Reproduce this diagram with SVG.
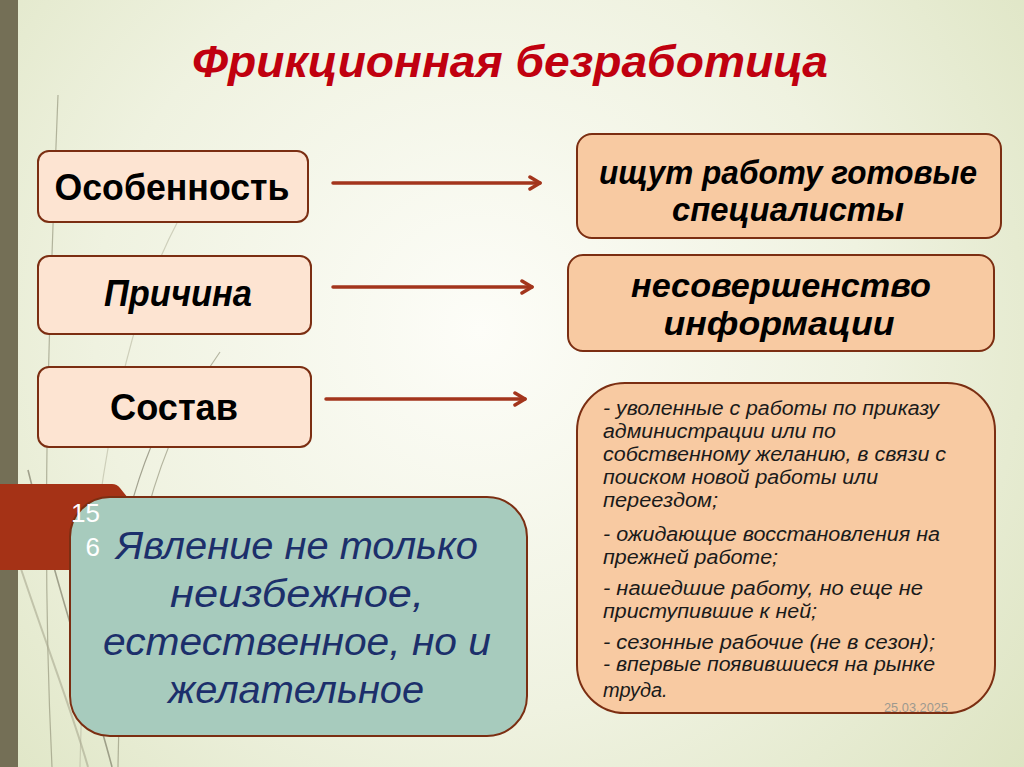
<svg xmlns="http://www.w3.org/2000/svg" width="1024" height="767" viewBox="0 0 1024 767">
<defs>
<radialGradient id="bg" cx="480" cy="330" r="700" gradientUnits="userSpaceOnUse">
<stop offset="0" stop-color="#fdfdf8"/>
<stop offset="0.55" stop-color="#eff2e0"/>
<stop offset="1" stop-color="#dde4c2"/>
</radialGradient>
<marker id="arr" viewBox="0 0 14 16" refX="12" refY="8" markerWidth="14" markerHeight="16" markerUnits="userSpaceOnUse" orient="auto">
<path d="M2,2 L12,8 L2,14" fill="none" stroke="#a3351c" stroke-width="3.5" stroke-linecap="round" stroke-linejoin="round"/>
</marker>
<style>
.lbox{fill:#fde4d2;stroke:#7b2e12;stroke-width:2}
.rbox{fill:#f8caa2;stroke:#7b2e12;stroke-width:2}
.tbox{fill:#a7cbbd;stroke:#7b2e12;stroke-width:2}
.lbl{font-family:"Liberation Sans",Arial,sans-serif;font-weight:bold;fill:#000;text-anchor:middle}
.it{font-style:italic}
.lst{font-family:"Liberation Sans",Arial,sans-serif;font-style:italic;font-size:20px;fill:#1a1a1a}
.blue{font-family:"Liberation Sans",Arial,sans-serif;font-style:italic;font-size:38px;fill:#1c2f6b;text-anchor:middle}
.conn{stroke:#a3351c;stroke-width:3.5;fill:none;stroke-linecap:round}
.wisp{fill:none;stroke:#8a8a72;stroke-width:1.2;opacity:0.6}
</style>
</defs>
<rect x="0" y="0" width="1024" height="767" fill="url(#bg)"/>
<rect x="0" y="0" width="18" height="767" fill="#746f56"/>
<g id="decor">
<path class="wisp" d="M58,95 C50,300 40,520 52,767"/>
<path class="wisp" d="M177,223 C120,330 85,520 80,767" style="stroke:#b8b8a0"/>
<path class="wisp" d="M220,352 C150,450 120,580 118,767"/>
<path class="wisp" d="M28,470 C60,600 95,700 112,767" style="stroke:#6e6c58;stroke-width:1.6"/>
<path class="wisp" d="M18,560 C48,650 75,720 88,767" style="stroke:#a9a890;stroke-width:2"/>
<path class="wisp" d="M157,433 C140,470 125,520 120,560" style="stroke:#6e6c58"/>
<path d="M0,484 L112,484 Q117,484 120,488 L128,498 L128,570 L0,570 Z" fill="#a53216"/>
</g>
<g id="title">
<text x="510" y="77" font-family="Liberation Sans,Arial,sans-serif" font-weight="bold" font-style="italic" font-size="44" fill="#c0000f" text-anchor="middle" textLength="636" lengthAdjust="spacingAndGlyphs">Фрикционная безработица</text>
</g>
<g id="connectors">
<line class="conn" x1="333" y1="183" x2="540" y2="183" marker-end="url(#arr)"/>
<line class="conn" x1="333" y1="287" x2="532" y2="287" marker-end="url(#arr)"/>
<line class="conn" x1="326" y1="399" x2="525" y2="399" marker-end="url(#arr)"/>
</g>
<g id="node-osobennost">
<rect class="lbox" x="38" y="151" width="270" height="71" rx="11"/>
<text class="lbl" x="172" y="200" font-size="36" textLength="235" lengthAdjust="spacingAndGlyphs">Особенность</text>
</g>
<g id="node-prichina">
<rect class="lbox" x="38" y="256" width="273" height="78" rx="11"/>
<text class="lbl it" x="178" y="306" font-size="36" textLength="148" lengthAdjust="spacingAndGlyphs">Причина</text>
</g>
<g id="node-sostav">
<rect class="lbox" x="38" y="367" width="273" height="80" rx="11"/>
<text class="lbl" x="174" y="420" font-size="36" textLength="128" lengthAdjust="spacingAndGlyphs">Состав</text>
</g>
<g id="node-ishchut">
<rect class="rbox" x="577" y="134" width="424" height="104" rx="15"/>
<text class="lbl it" x="788" y="184" font-size="33" textLength="378" lengthAdjust="spacingAndGlyphs">ищут работу готовые</text>
<text class="lbl it" x="788" y="221" font-size="33" textLength="232" lengthAdjust="spacingAndGlyphs">специалисты</text>
</g>
<g id="node-nesovershenstvo">
<rect class="rbox" x="568" y="255" width="426" height="96" rx="15"/>
<text class="lbl it" x="781" y="297" font-size="33" textLength="300" lengthAdjust="spacingAndGlyphs">несовершенство</text>
<text class="lbl it" x="779" y="335" font-size="33" textLength="231" lengthAdjust="spacingAndGlyphs">информации</text>
</g>
<g id="node-sostav-list">
<rect class="rbox" x="577" y="383" width="418" height="330" rx="48"/>
<text class="lst" x="603" y="415" textLength="336" lengthAdjust="spacingAndGlyphs">- уволенные с работы по приказу</text>
<text class="lst" x="603" y="438" textLength="233" lengthAdjust="spacingAndGlyphs">администрации или по</text>
<text class="lst" x="603" y="461" textLength="343" lengthAdjust="spacingAndGlyphs">собственному желанию, в связи с</text>
<text class="lst" x="603" y="484" textLength="275" lengthAdjust="spacingAndGlyphs">поиском новой работы или</text>
<text class="lst" x="603" y="507" textLength="115" lengthAdjust="spacingAndGlyphs">переездом;</text>
<text class="lst" x="603" y="541" textLength="337" lengthAdjust="spacingAndGlyphs">- ожидающие восстановления на</text>
<text class="lst" x="603" y="564" textLength="175" lengthAdjust="spacingAndGlyphs">прежней работе;</text>
<text class="lst" x="603" y="595" textLength="320" lengthAdjust="spacingAndGlyphs">- нашедшие работу, но еще не</text>
<text class="lst" x="603" y="618" textLength="214" lengthAdjust="spacingAndGlyphs">приступившие к ней;</text>
<text class="lst" x="603" y="649" textLength="332" lengthAdjust="spacingAndGlyphs">- сезонные рабочие (не в сезон);</text>
<text class="lst" x="603" y="671" textLength="332" lengthAdjust="spacingAndGlyphs">- впервые появившиеся на рынке</text>
<text class="lst" x="603" y="697">труда.</text>
</g>
<g id="node-yavlenie">
<rect class="tbox" x="70" y="497" width="457" height="239" rx="40"/>
<text class="blue" x="297" y="559" textLength="362" lengthAdjust="spacingAndGlyphs">Явление не только</text>
<text class="blue" x="297" y="607" textLength="254" lengthAdjust="spacingAndGlyphs">неизбежное,</text>
<text class="blue" x="297" y="655" textLength="388" lengthAdjust="spacingAndGlyphs">естественное, но и</text>
<text class="blue" x="296" y="703" textLength="256" lengthAdjust="spacingAndGlyphs">желательное</text>
</g>
<g id="slide-number">
<text x="100" y="522" font-family="Liberation Sans,Arial,sans-serif" font-size="26" fill="#ffffff" text-anchor="end">15</text>
<text x="100" y="556" font-family="Liberation Sans,Arial,sans-serif" font-size="26" fill="#ffffff" text-anchor="end">6</text>
</g>
<g id="date">
<text x="884" y="712" font-family="Liberation Sans,Arial,sans-serif" font-size="13" fill="#9d998f" textLength="64" lengthAdjust="spacingAndGlyphs">25.03.2025</text>
</g>
</svg>
